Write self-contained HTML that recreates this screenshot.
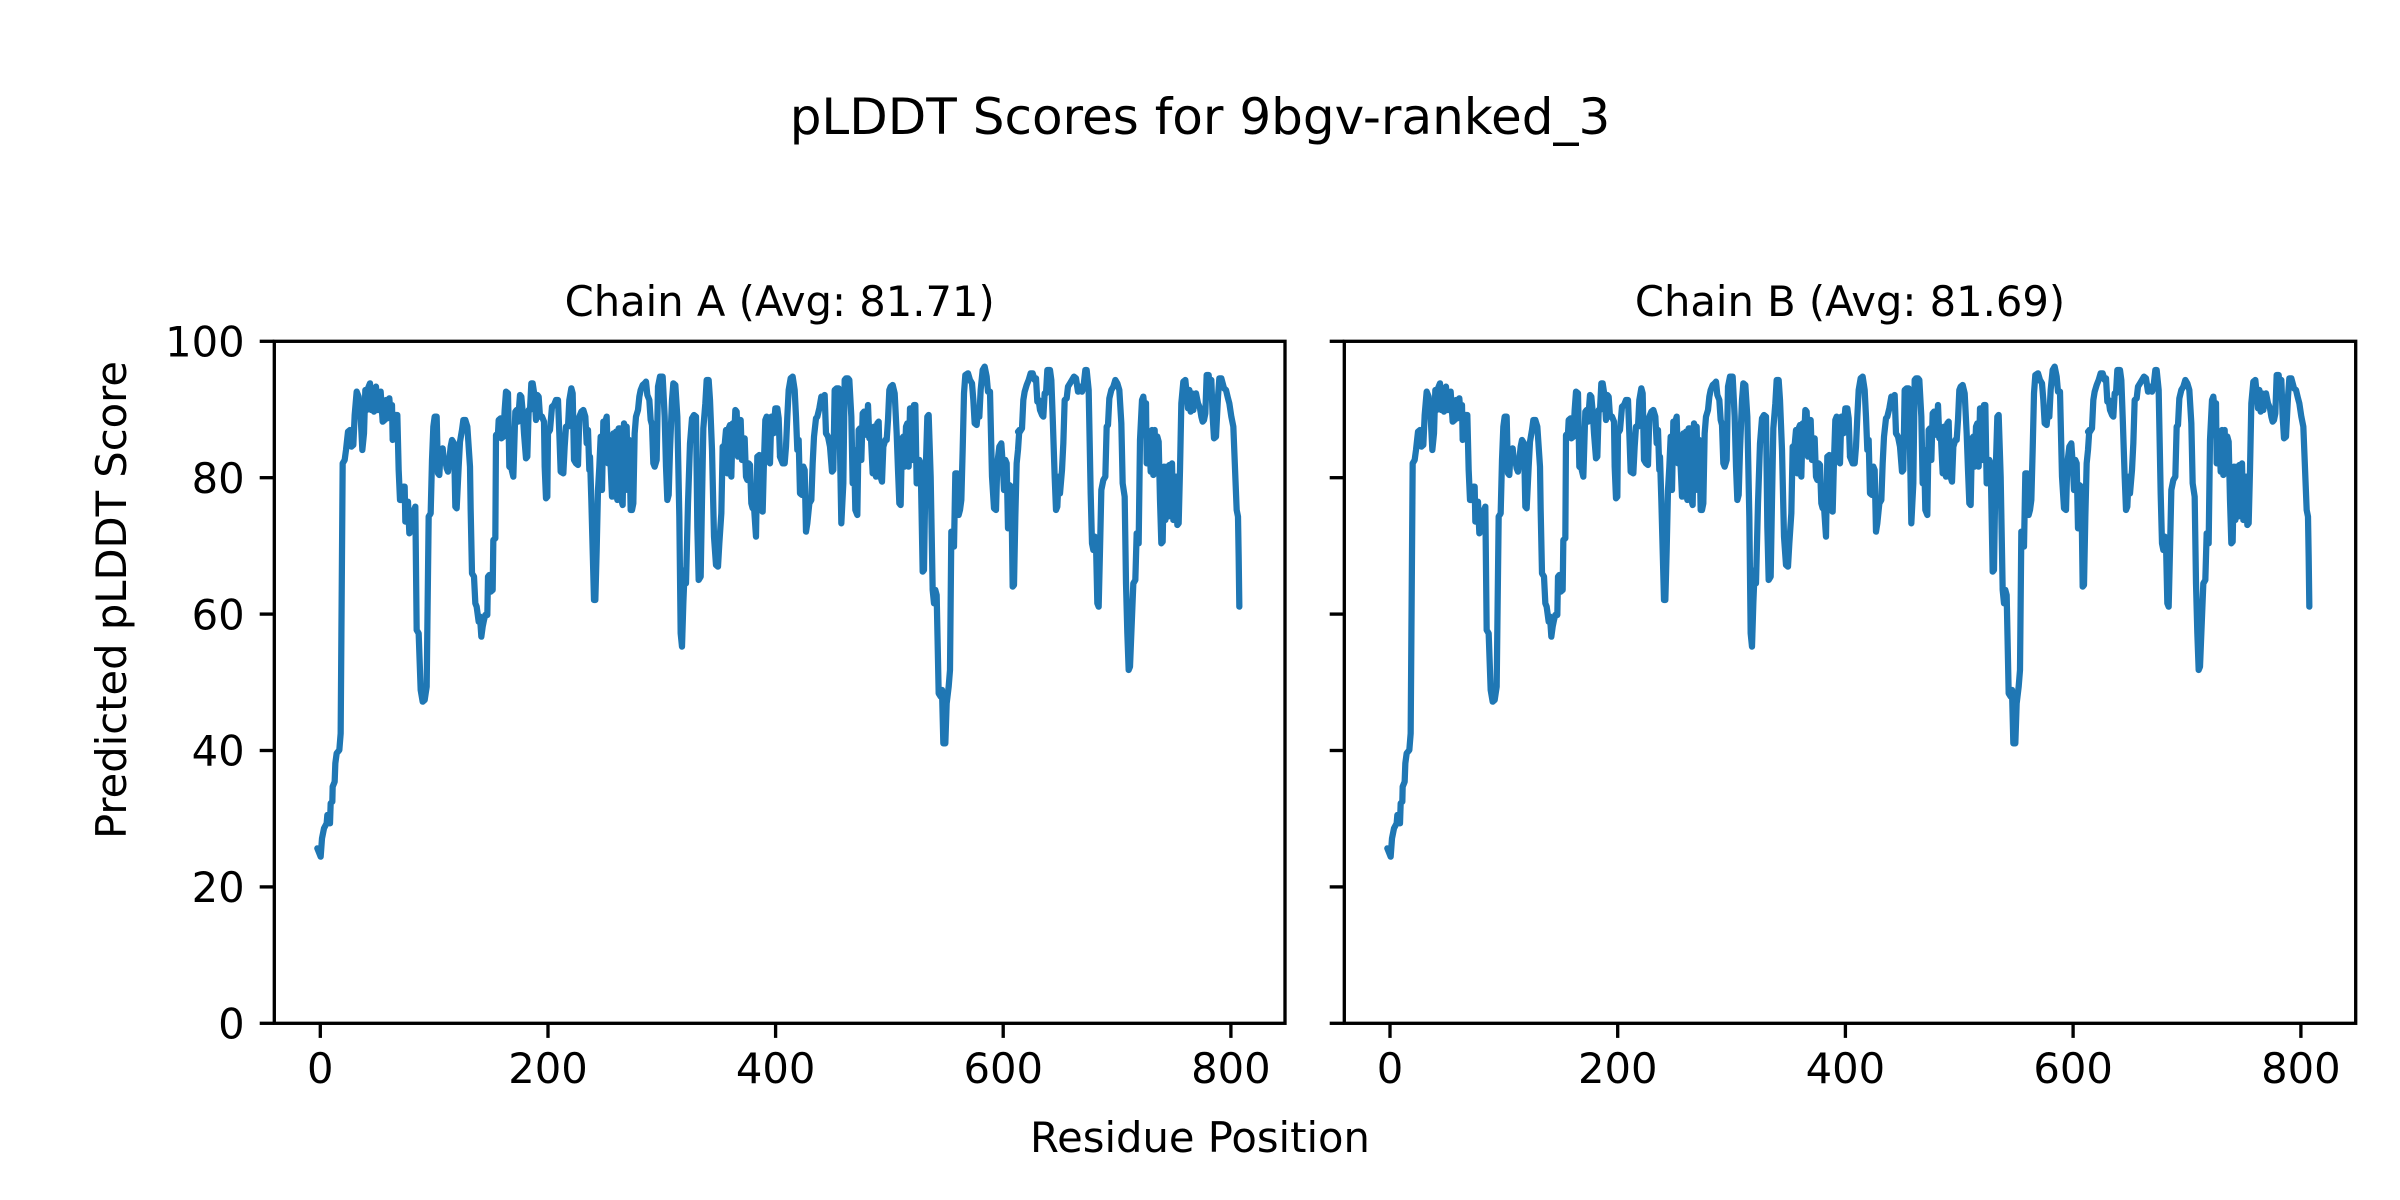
<!DOCTYPE html>
<html>
<head>
<meta charset="utf-8">
<style>
  html, body { margin: 0; padding: 0; background: #ffffff; }
  svg { display: block; }
  text { font-family: "DejaVu Sans", "Liberation Sans", sans-serif; fill: #000; }
</style>
</head>
<body>
<svg width="2400" height="1200" viewBox="0 0 2400 1200" xmlns="http://www.w3.org/2000/svg">
  <rect x="0" y="0" width="2400" height="1200" fill="#ffffff"/>

  <!-- Suptitle -->
  <text x="1200" y="134" font-size="50" text-anchor="middle">pLDDT Scores for 9bgv-ranked_3</text>

  <!-- Subplot titles -->
  <text x="779.7" y="316" font-size="41.67" text-anchor="middle">Chain A (Avg: 81.71)</text>
  <text x="1850" y="316" font-size="41.67" text-anchor="middle">Chain B (Avg: 81.69)</text>

  <!-- Series lines: Chain A -->
  <g fill="none" stroke="#1f77b4" stroke-width="18.75" stroke-linejoin="round" stroke-linecap="round">
    <g transform="translate(300 350) scale(0.333333)">
      <polyline points="52,1495 62,1520 66,1465 72,1435 80,1420 82,1395 90,1420 92,1360 97,1355 98,1310 104,1295 106,1240 110,1210 118,1200 122,1150 128,340 134,330 138,300 144,245 150,240 154,290 160,285 164,195 170,125 176,140 182,200 187,300 192,250 196,120 200,180 204,115 210,100 214,180 218,115 222,185 228,110 232,180 238,180 242,125 248,215 254,210 258,150 262,205 268,145 270,170 276,165 278,270 284,260 286,195 292,195 296,360 300,450 306,450 310,410 314,410 316,515 320,455 324,455 328,550 334,540 338,510 342,480 346,470 350,840 356,850 362,1020 368,1055 374,1050 380,1010 386,500 392,490 396,330 400,230 404,200 410,200 414,370 418,375 422,300 428,295 432,335 436,330 440,355 444,365 448,330 452,290 456,270 462,280 466,470 470,475 476,350 480,275 486,240 490,210 496,210 502,230 510,350 512,480 516,670 522,680 526,760 530,770 536,815 540,800 544,860 548,830 552,810 556,795 562,795 564,680 568,675 572,725 578,720 580,570 586,565 588,255 594,250 596,210 602,205 604,265 610,260 614,180 618,125 624,130 628,350 634,355 640,380 646,185 650,180 654,215 660,135 664,140 668,185 672,250 678,325 682,320 686,180 690,180 694,100 698,100 704,140 708,210 712,135 716,140 720,200"/>
    </g>
    <g transform="translate(540 350) scale(0.333333)">
      <polyline points="0,200 6,200 12,215 14,350 18,445 22,440 24,250 30,240 36,170 42,165 48,150 54,150 58,250 62,365 70,370 74,290 78,230 84,230 88,150 94,115 98,130 102,330 108,340 114,345 118,200 124,185 130,180 136,200 140,280 144,240 148,360 150,320 154,450 158,600 162,750 166,750 170,600 174,420 178,350 182,260 186,420 190,215 196,215 200,200 204,340 208,270 212,350 216,440 220,250 224,440 228,245 232,450 236,235 240,235 244,450 248,465 252,220 256,420 260,230 264,420 268,270 272,480 276,480 280,460 284,250 288,200 294,180 298,140 302,120 308,105 314,100 318,95 322,135 328,150 332,210 336,225 340,340 344,350 350,330 354,110 360,80 368,80 374,200 378,350 382,450 386,435 390,300 396,150 400,100 406,105 412,200 418,500 422,850 426,890 430,760 434,660 438,700 444,460 450,280 456,205 462,195 468,200 472,530 476,690 482,680 486,450 490,235 496,160 500,90 506,90 510,150 516,300 522,560 528,645 534,650 538,580 544,490 548,290 554,285 558,240 562,370 566,235 570,225 574,380 578,220 582,280 586,180 590,185 594,320 598,210 602,210 606,330 612,330 614,265 618,380 622,390 626,340 630,345 634,460 638,475 642,470 648,560 652,320 658,315 662,480 668,485 672,330 676,210 680,200 684,330 690,340 694,200 700,250 706,175 712,175 716,205 720,320"/>
    </g>
    <g transform="translate(780 350) scale(0.333333)">
      <polyline points="0,320 8,340 14,340 18,290 22,200 26,120 32,85 38,80 44,120 48,200 52,300 56,270 60,430 66,435 70,350 74,360 78,545 82,520 88,460 94,450 98,340 102,260 108,205 112,200 118,175 124,140 130,145 134,135 138,250 144,260 150,290 156,365 160,360 164,120 170,115 176,115 180,300 184,520 190,400 194,90 198,85 204,85 208,90 214,200 218,400 222,300 226,480 232,495 236,240 240,235 244,330 248,190 252,185 256,215 260,255 264,165 268,265 272,245 278,370 282,230 288,380 292,220 296,215 300,375 306,395 310,290 316,270 320,270 324,210 328,120 332,110 338,105 344,130 350,250 354,360 358,460 362,465 366,265 370,260 374,350 378,230 382,220 386,350 390,175 394,175 398,330 402,165 406,165 410,400 414,390 418,330 422,340 428,665 432,660 436,400 442,200 446,195 452,380 458,720 462,760 466,720 470,735 476,1030 482,1040 486,1020 490,1180 496,1180 500,1060 506,1010 510,960 514,545 518,590 522,590 526,370 532,370 536,495 540,480 544,450 548,300 552,130 556,75 564,70 570,90 576,100 580,150 584,220 590,225 594,180 598,200 602,120 608,60 614,50 620,80 624,125 630,125 632,210 636,380 642,475 648,480 652,340 658,290 664,280 668,340 672,420 676,330 680,340 684,535 688,405 694,410 698,710 702,705 706,500 710,340 714,300 718,240"/>
    </g>
    <g transform="translate(1020 350) scale(0.333333)">
      <polyline points="-6,245 0,245 6,235 10,150 14,125 20,105 26,90 32,70 38,70 44,90 48,85 52,155 56,150 60,180 66,195 70,200 74,130 78,130 82,60 90,60 94,90 98,200 104,380 108,480 112,470 116,380 120,430 126,360 130,280 134,150 140,145 144,110 150,100 156,90 162,80 168,85 174,125 180,110 186,125 190,115 196,60 200,60 206,120 212,430 216,580 220,600 224,560 228,580 232,760 236,770 240,600 244,420 250,390 256,380 260,230 264,225 268,145 274,120 280,110 286,90 292,100 298,120 304,220 308,400 314,440 318,700 322,850 326,960 330,950 334,850 340,700 346,690 350,550 356,580 360,270 366,150 370,140 374,180 378,160 380,340 384,335 388,250 392,365 396,240 400,375 404,240 408,370 412,260 416,275 420,450 424,580 428,575 432,350 436,510 440,350 444,500 448,345 452,495 456,340 460,510 464,505 468,380 472,525 476,520 480,360 484,160 490,95 496,90 500,130 504,175 508,120 512,185 516,130 520,180 524,135 528,130 534,160 540,175 544,200 548,215 552,210 556,190 560,75 566,75 570,130 574,90 578,200 582,265 588,260 594,140 598,85 604,85 608,100 612,115 618,120 624,145 628,160 634,200 640,230 646,380 650,480 654,500 656,620 658,770"/>
    </g>
  </g>

  <!-- Series lines: Chain B (same profile shifted) -->
  <g fill="none" stroke="#1f77b4" stroke-width="18.75" stroke-linejoin="round" stroke-linecap="round">
    <g transform="translate(1370 350) scale(0.333333)">
      <polyline points="52,1495 62,1520 66,1465 72,1435 80,1420 82,1395 90,1420 92,1360 97,1355 98,1310 104,1295 106,1240 110,1210 118,1200 122,1150 128,340 134,330 138,300 144,245 150,240 154,290 160,285 164,195 170,125 176,140 182,200 187,300 192,250 196,120 200,180 204,115 210,100 214,180 218,115 222,185 228,110 232,180 238,180 242,125 248,215 254,210 258,150 262,205 268,145 270,170 276,165 278,270 284,260 286,195 292,195 296,360 300,450 306,450 310,410 314,410 316,515 320,455 324,455 328,550 334,540 338,510 342,480 346,470 350,840 356,850 362,1020 368,1055 374,1050 380,1010 386,500 392,490 396,330 400,230 404,200 410,200 414,370 418,375 422,300 428,295 432,335 436,330 440,355 444,365 448,330 452,290 456,270 462,280 466,470 470,475 476,350 480,275 486,240 490,210 496,210 502,230 510,350 512,480 516,670 522,680 526,760 530,770 536,815 540,800 544,860 548,830 552,810 556,795 562,795 564,680 568,675 572,725 578,720 580,570 586,565 588,255 594,250 596,210 602,205 604,265 610,260 614,180 618,125 624,130 628,350 634,355 640,380 646,185 650,180 654,215 660,135 664,140 668,185 672,250 678,325 682,320 686,180 690,180 694,100 698,100 704,140 708,210 712,135 716,140 720,200"/>
    </g>
    <g transform="translate(1610 350) scale(0.333333)">
      <polyline points="0,200 6,200 12,215 14,350 18,445 22,440 24,250 30,240 36,170 42,165 48,150 54,150 58,250 62,365 70,370 74,290 78,230 84,230 88,150 94,115 98,130 102,330 108,340 114,345 118,200 124,185 130,180 136,200 140,280 144,240 148,360 150,320 154,450 158,600 162,750 166,750 170,600 174,420 178,350 182,260 186,420 190,215 196,215 200,200 204,340 208,270 212,350 216,440 220,250 224,440 228,245 232,450 236,235 240,235 244,450 248,465 252,220 256,420 260,230 264,420 268,270 272,480 276,480 280,460 284,250 288,200 294,180 298,140 302,120 308,105 314,100 318,95 322,135 328,150 332,210 336,225 340,340 344,350 350,330 354,110 360,80 368,80 374,200 378,350 382,450 386,435 390,300 396,150 400,100 406,105 412,200 418,500 422,850 426,890 430,760 434,660 438,700 444,460 450,280 456,205 462,195 468,200 472,530 476,690 482,680 486,450 490,235 496,160 500,90 506,90 510,150 516,300 522,560 528,645 534,650 538,580 544,490 548,290 554,285 558,240 562,370 566,235 570,225 574,380 578,220 582,280 586,180 590,185 594,320 598,210 602,210 606,330 612,330 614,265 618,380 622,390 626,340 630,345 634,460 638,475 642,470 648,560 652,320 658,315 662,480 668,485 672,330 676,210 680,200 684,330 690,340 694,200 700,250 706,175 712,175 716,205 720,320"/>
    </g>
    <g transform="translate(1850 350) scale(0.333333)">
      <polyline points="0,320 8,340 14,340 18,290 22,200 26,120 32,85 38,80 44,120 48,200 52,300 56,270 60,430 66,435 70,350 74,360 78,545 82,520 88,460 94,450 98,340 102,260 108,205 112,200 118,175 124,140 130,145 134,135 138,250 144,260 150,290 156,365 160,360 164,120 170,115 176,115 180,300 184,520 190,400 194,90 198,85 204,85 208,90 214,200 218,400 222,300 226,480 232,495 236,240 240,235 244,330 248,190 252,185 256,215 260,255 264,165 268,265 272,245 278,370 282,230 288,380 292,220 296,215 300,375 306,395 310,290 316,270 320,270 324,210 328,120 332,110 338,105 344,130 350,250 354,360 358,460 362,465 366,265 370,260 374,350 378,230 382,220 386,350 390,175 394,175 398,330 402,165 406,165 410,400 414,390 418,330 422,340 428,665 432,660 436,400 442,200 446,195 452,380 458,720 462,760 466,720 470,735 476,1030 482,1040 486,1020 490,1180 496,1180 500,1060 506,1010 510,960 514,545 518,590 522,590 526,370 532,370 536,495 540,480 544,450 548,300 552,130 556,75 564,70 570,90 576,100 580,150 584,220 590,225 594,180 598,200 602,120 608,60 614,50 620,80 624,125 630,125 632,210 636,380 642,475 648,480 652,340 658,290 664,280 668,340 672,420 676,330 680,340 684,535 688,405 694,410 698,710 702,705 706,500 710,340 714,300 718,240"/>
    </g>
    <g transform="translate(2090 350) scale(0.333333)">
      <polyline points="-6,245 0,245 6,235 10,150 14,125 20,105 26,90 32,70 38,70 44,90 48,85 52,155 56,150 60,180 66,195 70,200 74,130 78,130 82,60 90,60 94,90 98,200 104,380 108,480 112,470 116,380 120,430 126,360 130,280 134,150 140,145 144,110 150,100 156,90 162,80 168,85 174,125 180,110 186,125 190,115 196,60 200,60 206,120 212,430 216,580 220,600 224,560 228,580 232,760 236,770 240,600 244,420 250,390 256,380 260,230 264,225 268,145 274,120 280,110 286,90 292,100 298,120 304,220 308,400 314,440 318,700 322,850 326,960 330,950 334,850 340,700 346,690 350,550 356,580 360,270 366,150 370,140 374,180 378,160 380,340 384,335 388,250 392,365 396,240 400,375 404,240 408,370 412,260 416,275 420,450 424,580 428,575 432,350 436,510 440,350 444,500 448,345 452,495 456,340 460,510 464,505 468,380 472,525 476,520 480,360 484,160 490,95 496,90 500,130 504,175 508,120 512,185 516,130 520,180 524,135 528,130 534,160 540,175 544,200 548,215 552,210 556,190 560,75 566,75 570,130 574,90 578,200 582,265 588,260 594,140 598,85 604,85 608,100 612,115 618,120 624,145 628,160 634,200 640,230 646,380 650,480 654,500 656,620 658,770"/>
    </g>
  </g>

  <!-- Spines -->
  <g fill="none" stroke="#000" stroke-width="3.33" stroke-linejoin="miter">
    <rect x="274.3" y="341.3" width="1010.7" height="682"/>
    <rect x="1344.3" y="341.3" width="1011.4" height="682"/>
  </g>

  <!-- Ticks -->
  <g stroke="#000" stroke-width="3.33">
    <!-- Y ticks A -->
    <line x1="259.7" y1="1023.3" x2="274.3" y2="1023.3"/>
    <line x1="259.7" y1="886.9" x2="274.3" y2="886.9"/>
    <line x1="259.7" y1="750.5" x2="274.3" y2="750.5"/>
    <line x1="259.7" y1="614.1" x2="274.3" y2="614.1"/>
    <line x1="259.7" y1="477.7" x2="274.3" y2="477.7"/>
    <line x1="259.7" y1="341.3" x2="274.3" y2="341.3"/>
    <!-- Y ticks B -->
    <line x1="1329.7" y1="1023.3" x2="1344.3" y2="1023.3"/>
    <line x1="1329.7" y1="886.9" x2="1344.3" y2="886.9"/>
    <line x1="1329.7" y1="750.5" x2="1344.3" y2="750.5"/>
    <line x1="1329.7" y1="614.1" x2="1344.3" y2="614.1"/>
    <line x1="1329.7" y1="477.7" x2="1344.3" y2="477.7"/>
    <line x1="1329.7" y1="341.3" x2="1344.3" y2="341.3"/>
    <!-- X ticks A -->
    <line x1="320.3" y1="1023.3" x2="320.3" y2="1037.9"/>
    <line x1="548" y1="1023.3" x2="548" y2="1037.9"/>
    <line x1="775.6" y1="1023.3" x2="775.6" y2="1037.9"/>
    <line x1="1003.2" y1="1023.3" x2="1003.2" y2="1037.9"/>
    <line x1="1230.9" y1="1023.3" x2="1230.9" y2="1037.9"/>
    <!-- X ticks B -->
    <line x1="1390" y1="1023.3" x2="1390" y2="1037.9"/>
    <line x1="1617.7" y1="1023.3" x2="1617.7" y2="1037.9"/>
    <line x1="1845.4" y1="1023.3" x2="1845.4" y2="1037.9"/>
    <line x1="2073.1" y1="1023.3" x2="2073.1" y2="1037.9"/>
    <line x1="2300.9" y1="1023.3" x2="2300.9" y2="1037.9"/>
  </g>

  <!-- Y tick labels -->
  <g font-size="41.67" text-anchor="end">
    <text x="244.7" y="1038.5">0</text>
    <text x="244.7" y="902.1">20</text>
    <text x="244.7" y="765.7">40</text>
    <text x="244.7" y="629.3">60</text>
    <text x="244.7" y="492.9">80</text>
    <text x="244.7" y="356.5">100</text>
  </g>

  <!-- X tick labels -->
  <g font-size="41.67" text-anchor="middle">
    <text x="320.3" y="1083">0</text>
    <text x="548" y="1083">200</text>
    <text x="775.6" y="1083">400</text>
    <text x="1003.2" y="1083">600</text>
    <text x="1230.9" y="1083">800</text>
    <text x="1390" y="1083">0</text>
    <text x="1617.7" y="1083">200</text>
    <text x="1845.4" y="1083">400</text>
    <text x="2073.1" y="1083">600</text>
    <text x="2300.9" y="1083">800</text>
  </g>

  <!-- Axis labels -->
  <text x="1200" y="1152" font-size="41.67" text-anchor="middle">Residue Position</text>
  <text transform="translate(126 600) rotate(-90)" font-size="41.67" text-anchor="middle">Predicted pLDDT Score</text>
</svg>
</body>
</html>
